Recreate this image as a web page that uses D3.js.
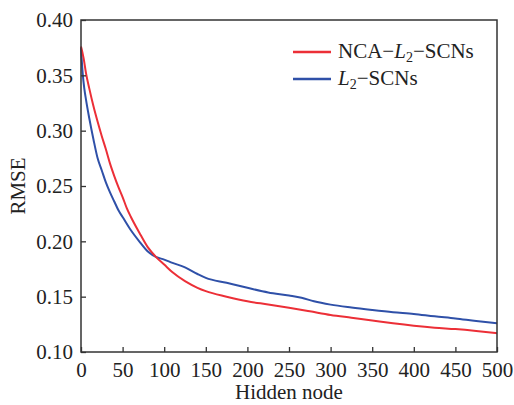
<!DOCTYPE html>
<html>
<head>
<meta charset="utf-8">
<script src="https://cdn.jsdelivr.net/npm/d3@7"></script>
<style>
  body { margin: 0; background: #fff; }
  text { font-family: "Liberation Serif", "Times New Roman", serif; fill: #222; }
</style>
</head>
<body>
<div id="chart"></div>
<script>
// hidden node counts and RMSE
const ncaNodes = [0, 3, 6, 10, 15, 20, 25, 30, 35, 40, 45, 50, 55, 60, 70, 80, 90, 100, 110, 125, 140, 150, 175, 200, 225, 250, 275, 300, 325, 350, 375, 400, 425, 450, 475, 500];
const ncaRmse  = [0.376, 0.366, 0.352, 0.338, 0.322, 0.308, 0.295, 0.283, 0.270, 0.259, 0.249, 0.240, 0.230, 0.222, 0.208, 0.195, 0.186, 0.179, 0.172, 0.164, 0.158, 0.155, 0.150, 0.1458, 0.143, 0.140, 0.1368, 0.1335, 0.131, 0.1285, 0.126, 0.1238, 0.122, 0.1207, 0.119, 0.117];

const l2Nodes = [0, 2, 4, 6, 10, 15, 20, 25, 30, 35, 40, 45, 50, 60, 70, 80, 90, 100, 110, 125, 140, 150, 175, 200, 225, 250, 265, 280, 300, 325, 350, 375, 400, 425, 450, 475, 500];
const l2Rmse  = [0.375, 0.352, 0.338, 0.328, 0.311, 0.292, 0.275, 0.264, 0.253, 0.244, 0.236, 0.228, 0.222, 0.210, 0.200, 0.191, 0.186, 0.1835, 0.1805, 0.1765, 0.1705, 0.167, 0.1625, 0.158, 0.1538, 0.151, 0.149, 0.1458, 0.1428, 0.1402, 0.138, 0.136, 0.1344, 0.1322, 0.1303, 0.128, 0.126];

const xTicks = [0, 50, 100, 150, 200, 250, 300, 350, 400, 450, 500];
const yTicks = [0.10, 0.15, 0.20, 0.25, 0.30, 0.35, 0.40];

const W = 514, H = 405;
const margin = {top: 20, right: 17, bottom: 53, left: 81};
const width = W - margin.left - margin.right;
const height = H - margin.top - margin.bottom;
const fontSize = "21px";

const svg = d3.select("#chart").append("svg")
    .attr("width", W)
    .attr("height", H);

const g = svg.append("g")
    .attr("transform", `translate(${margin.left},${margin.top})`);

const x = d3.scaleLinear().domain([0, 500]).range([0, width]);
const y = d3.scaleLinear().domain([0.10, 0.40]).range([height, 0]);

// curves
const line = d3.line()
    .x(d => x(d[0]))
    .y(d => y(d[1]))
    .curve(d3.curveMonotoneX);

g.append("path")
    .datum(l2Nodes.map((n, i) => [n, l2Rmse[i]]))
    .attr("fill", "none")
    .attr("stroke", "#2f50a8")
    .attr("stroke-width", 2)
    .attr("d", line);

g.append("path")
    .datum(ncaNodes.map((n, i) => [n, ncaRmse[i]]))
    .attr("fill", "none")
    .attr("stroke", "#ec2f37")
    .attr("stroke-width", 2)
    .attr("d", line);

// axes, ticks pointing inward
const xAxis = g.append("g")
    .attr("transform", `translate(0,${height})`)
    .call(d3.axisBottom(x).tickValues(xTicks).tickSizeInner(-5).tickSizeOuter(0).tickPadding(10));

const yAxis = g.append("g")
    .call(d3.axisLeft(y).tickValues(yTicks).tickFormat(d3.format(".2f")).tickSizeInner(-5).tickSizeOuter(0).tickPadding(8));

[xAxis, yAxis].forEach(a => {
    a.attr("font-family", null).attr("font-size", null);
    a.select(".domain").remove();
    a.selectAll("line").attr("stroke", "#333").attr("stroke-width", 1.3);
    a.selectAll("text")
        .style("font-family", '"Liberation Serif", serif')
        .style("font-size", fontSize)
        .attr("fill", "#222");
});

// frame
g.append("rect")
    .attr("width", width)
    .attr("height", height)
    .attr("fill", "none")
    .attr("stroke", "#333")
    .attr("stroke-width", 1.5);

// axis titles
svg.append("text")
    .attr("x", margin.left + width / 2)
    .attr("y", H - 6)
    .attr("text-anchor", "middle")
    .style("font-size", fontSize)
    .text("Hidden node");

svg.append("text")
    .attr("transform", `translate(25,${margin.top + height / 2}) rotate(-90)`)
    .attr("text-anchor", "middle")
    .style("font-size", fontSize)
    .text("RMSE");

// legend
const legend = g.append("g").attr("transform", "translate(212,32)");
const items = [
    {color: "#ec2f37", pre: "NCA\u2212"},
    {color: "#2f50a8", pre: ""}
];
items.forEach((it, i) => {
    const row = legend.append("g").attr("transform", `translate(0,${i * 27})`);
    row.append("line")
        .attr("x1", 0).attr("x2", 38)
        .attr("stroke", it.color).attr("stroke-width", 2.5);
    const t = row.append("text")
        .attr("x", 45)
        .attr("y", 6)
        .style("font-size", fontSize);
    if (it.pre) t.append("tspan").text(it.pre);
    t.append("tspan").style("font-style", "italic").text("L");
    t.append("tspan").attr("dy", 4).style("font-size", "14px").text("2");
    t.append("tspan").attr("dy", -4).text("\u2212SCNs");
});
</script>
</body>
</html>
